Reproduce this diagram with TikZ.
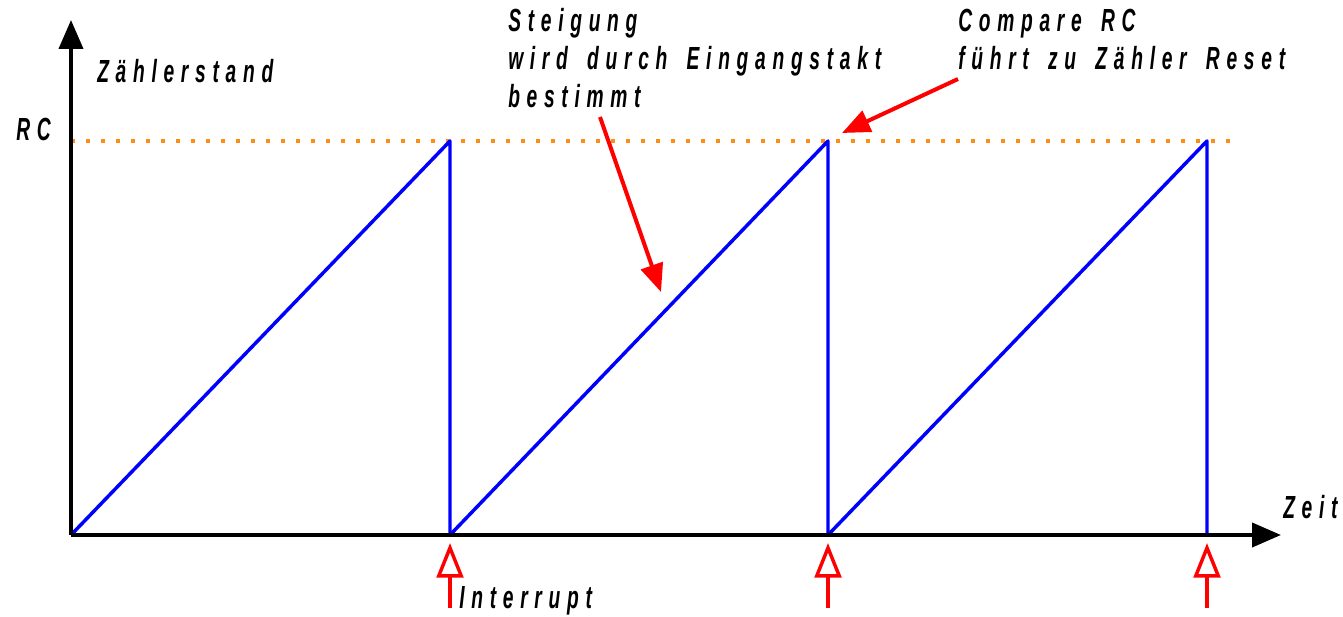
\documentclass[tikz,border=0pt]{standalone}
\usepackage{fontspec}
\usetikzlibrary{arrows.meta}
\newfontfamily\lab[FakeStretch=0.60,LetterSpace=21,WordSpace=1.6]{Liberation Sans}
\definecolor{rampblue}{RGB}{0,0,255}
\definecolor{dotorange}{RGB}{255,140,20}
\definecolor{arrred}{RGB}{255,0,0}
\begin{document}
\begin{tikzpicture}[x=0.75pt,y=-0.75pt,
  lbl/.style={font=\lab\bfseries\itshape\fontsize{24pt}{28.5pt}\selectfont, inner sep=0pt, anchor=base west, align=left},
  axis/.style={line width=3pt, -{Triangle[length=21.75pt,width=18pt]}},
  ramp/.style={line width=2.6pt, rampblue, line join=round},
  rcline/.style={line width=3pt, dotorange, dash pattern=on 3pt off 8.25pt},
  note/.style={line width=3pt, arrred, -{Triangle[length=21pt,width=17pt]}},
  intr/.style={line width=2.6pt, arrred, -{Triangle[open,length=26pt,width=20pt]}}
]
\useasboundingbox (0,0) rectangle (1343,617);
% points
\coordinate (O) at (71,535);
\coordinate (ytop) at (71,20);
\coordinate (xend) at (1281,535);
\coordinate (rcL) at (71,141);
\coordinate (rcR) at (1230,141);
\coordinate (b1) at (450,535); \coordinate (t1) at (450,141);
\coordinate (b2) at (828,535); \coordinate (t2) at (828,141);
\coordinate (b3) at (1207,535); \coordinate (t3) at (1207,141);
% RC level
\draw[rcline] (rcL) -- (rcR);
% ramps
\draw[ramp] (O) -- (t1) -- (b1);
\draw[ramp] (b1) -- (t2) -- (b2);
\draw[ramp] (b2) -- (t3) -- (b3);
% axes
\draw[axis] (O) -- (ytop);
\draw[axis] (O) -- (xend);
% labels
\node[lbl] (zs) at (97,83) {Zählerstand};
\node[lbl] (rc) at (16,141) {RC};
\node[lbl] (zeit) at (1283,518) {Zeit};
\node[lbl] (steig) at (508,108) {Steigung\\wird durch Eingangstakt\\bestimmt};
\node[lbl] (comp) at (958,70) {Compare RC\\führt zu Zähler Reset};
\node[lbl] (intxt) at (459,608) {Interrupt};
% annotation arrows
\coordinate (s1) at (600,117); \coordinate (s1e) at (661,292);
\draw[note] (s1) -- (s1e);
\coordinate (c1) at (958,79); \coordinate (c1e) at (842,133);
\draw[note] (c1) -- (c1e);
% interrupt arrows
\coordinate (i1) at (450,608); \coordinate (i1e) at (450,543);
\coordinate (i2) at (828,608); \coordinate (i2e) at (828,543);
\coordinate (i3) at (1207,608); \coordinate (i3e) at (1207,543);
\draw[intr] (i1) -- (i1e);
\draw[intr] (i2) -- (i2e);
\draw[intr] (i3) -- (i3e);
\end{tikzpicture}
\end{document}
